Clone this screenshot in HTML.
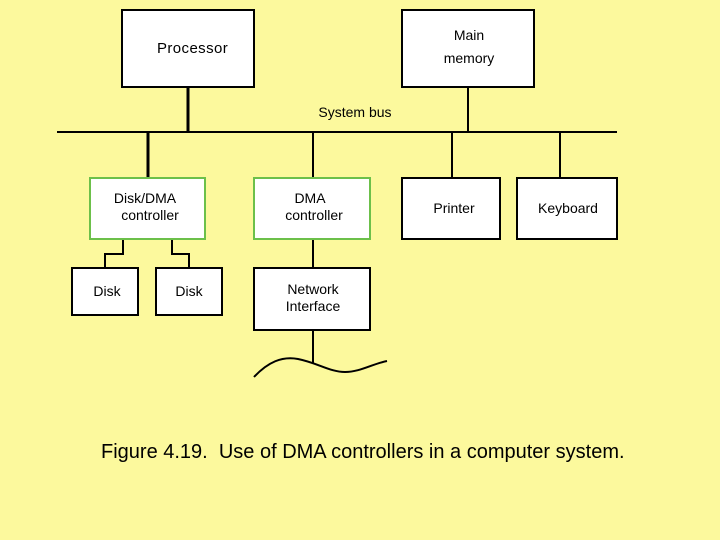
<!DOCTYPE html>
<html><head><style>
body{margin:0;width:720px;height:540px;background:#fcf99d;overflow:hidden}
svg{position:absolute;left:0;top:0}
text{font-family:"Liberation Sans",sans-serif;font-size:14px;fill:#000}
</style></head><body>
<svg width="720" height="540">
<g fill="#fff" stroke="#000" stroke-width="2">
<rect x="122" y="10" width="132" height="77"/>
<rect x="402" y="10" width="132" height="77"/>
<rect x="402" y="178" width="98" height="61"/>
<rect x="517" y="178" width="100" height="61"/>
<rect x="72" y="268" width="66" height="47"/>
<rect x="156" y="268" width="66" height="47"/>
<rect x="254" y="268" width="116" height="62"/>
</g>
<g fill="#fff" stroke="#6cc04a" stroke-width="2">
<rect x="90" y="178" width="115" height="61"/>
<rect x="254" y="178" width="116" height="61"/>
</g>
<g stroke="#000" fill="none" stroke-width="2">
<line x1="57" y1="132" x2="617" y2="132"/>
<line x1="188" y1="87" x2="188" y2="132" stroke-width="3"/>
<line x1="468" y1="87" x2="468" y2="132"/>
<line x1="148" y1="132" x2="148" y2="177" stroke-width="3"/>
<line x1="313" y1="132" x2="313" y2="177"/>
<line x1="452" y1="132" x2="452" y2="177"/>
<line x1="560" y1="132" x2="560" y2="177"/>
<polyline points="123,240 123,254 105,254 105,268"/>
<polyline points="172,240 172,254 189,254 189,268"/>
<line x1="313" y1="240" x2="313" y2="268"/>
<line x1="313" y1="330" x2="313" y2="363"/>
<path d="M254,377 C268,362 282,356 298,359 C318,363 330,372 345,372 C360,372 372,364 387,361"/>
</g>
<text x="157" y="53" style="font-size:15px;letter-spacing:0.4px">Processor</text>
<text x="469" y="40" text-anchor="middle">Main</text>
<text x="469" y="63" text-anchor="middle">memory</text>
<text x="355" y="117" text-anchor="middle">System bus</text>
<text x="145" y="203" text-anchor="middle">Disk/DMA</text>
<text x="150" y="220" text-anchor="middle">controller</text>
<text x="310" y="203" text-anchor="middle">DMA</text>
<text x="314" y="220" text-anchor="middle">controller</text>
<text x="454" y="213" text-anchor="middle">Printer</text>
<text x="568" y="213" text-anchor="middle">Keyboard</text>
<text x="107" y="296" text-anchor="middle">Disk</text>
<text x="189" y="296" text-anchor="middle">Disk</text>
<text x="313" y="294" text-anchor="middle">Network</text>
<text x="313" y="311" text-anchor="middle">Interface</text>
<text x="101" y="458" style="font-size:20px;white-space:pre">Figure 4.19.  Use of DMA controllers in a computer system.</text>
</svg>
</body></html>
